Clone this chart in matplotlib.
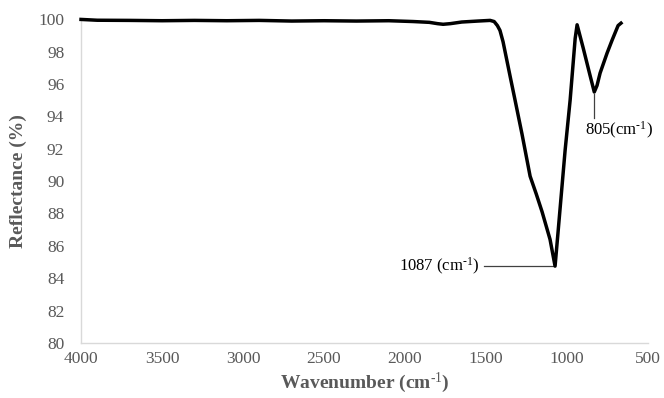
import matplotlib
matplotlib.use('Agg')
import matplotlib.pyplot as plt

plt.rcParams['font.family'] = ['Liberation Serif', 'DejaVu Serif']
plt.rcParams['mathtext.fontset'] = 'custom'
plt.rcParams['mathtext.rm'] = 'Liberation Serif'
plt.rcParams['mathtext.it'] = 'Liberation Serif:italic'
plt.rcParams['mathtext.bf'] = 'Liberation Serif:bold'

# ── FTIR spectrum ──
wavenumber = [4000, 3900, 3700, 3500, 3300, 3100, 2900, 2700, 2500, 2300,
              2100, 1950, 1850, 1800, 1765, 1720, 1650, 1550, 1475, 1450,
              1430, 1414, 1395, 1350, 1321, 1278, 1228, 1190, 1154, 1105,
              1074, 1056, 1012, 981, 950, 938, 900, 860, 832, 815,
              796, 753, 722, 685, 667]
reflectance = [99.98, 99.93, 99.92, 99.9, 99.92, 99.9, 99.92, 99.88, 99.9, 99.88,
               99.9, 99.85, 99.8, 99.72, 99.68, 99.72, 99.82, 99.88, 99.92, 99.85,
               99.6, 99.3, 98.6, 96.4, 95.0, 92.9, 90.3, 89.2, 88.1, 86.4,
               84.75, 86.8, 91.9, 95.0, 98.8, 99.65, 98.2, 96.6, 95.5, 95.9,
               96.67, 97.9, 98.7, 99.6, 99.75]

peak1_wn, peak1_val = 1074, 84.75
peak2_wn, peak2_val = 832, 95.5

fig = plt.figure(figsize=(6.64, 3.98), dpi=100)
ax = fig.add_axes([0.122, 0.138, 0.854, 0.814])

ax.plot(wavenumber, reflectance, color='black', linewidth=2.5, clip_on=False,
        solid_joinstyle='round', zorder=3)

ax.set_xlim(4000, 500)
ax.set_ylim(80, 100)
ax.set_xticks(range(4000, 499, -500))
ax.set_yticks(range(80, 101, 2))

gray = '#595959'
for side in ['top', 'right']:
    ax.spines[side].set_visible(False)
for side in ['left', 'bottom']:
    ax.spines[side].set_color('#d9d9d9')
    ax.spines[side].set_linewidth(1.0)
ax.tick_params(axis='both', length=0, labelsize=12.5, colors=gray)
ax.tick_params(axis='y', pad=12)
ax.tick_params(axis='x', pad=6)

sup = r'$^{\text{-1}}$'
ax.set_xlabel('Wavenumber (cm' + sup + ')', fontsize=14, fontweight='bold', color=gray, labelpad=2)
ax.set_ylabel('Reflectance (%)', fontsize=14, fontweight='bold', color=gray, labelpad=8)

# ── Peak annotations ──
ax.plot([1510, peak1_wn + 8], [peak1_val, peak1_val], color='#404040', linewidth=0.9)
ax.text(1540, peak1_val, '1087 (cm' + sup + ')', fontsize=12, ha='right', va='center', color='black')

ax.plot([peak2_wn, peak2_wn], [peak2_val - 0.1, 93.9], color='#404040', linewidth=0.9)
ax.text(peak2_wn + 60, 93.1, '805(cm' + sup + ')', fontsize=12, ha='left', va='center', color='black')

fig.savefig('out.png', dpi=100, facecolor='white')
